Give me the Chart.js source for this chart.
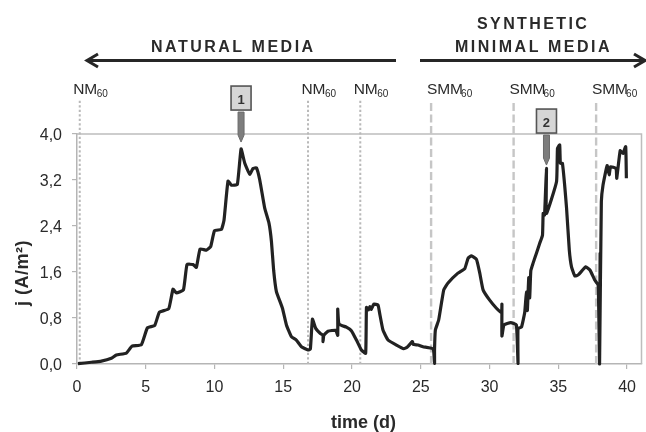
<!DOCTYPE html>
<html><head><meta charset="utf-8">
<style>html,body{margin:0;padding:0;background:#fff;overflow:hidden}canvas{display:block;filter:blur(0.45px)}</style>
<script src="https://cdn.jsdelivr.net/npm/chart.js@4"></script>
</head><body><canvas id="c" width="646" height="432"></canvas>
<script>
const timeDays = [0.07,1.05,1.77,2.5,2.86,3.59,4.0,4.68,5.12,5.65,5.99,6.67,6.98,7.23,7.74,8.0,8.44,8.68,8.95,9.41,9.72,10.0,10.5,10.69,10.98,11.23,11.66,11.93,12.2,12.56,12.8,13.05,13.29,13.65,13.96,14.14,14.3,14.5,14.94,15.23,15.59,15.95,16.32,16.8,16.97,17.12,17.36,17.7,17.89,17.89,17.95,18.25,18.81,18.96,18.96,19.05,19.59,19.95,20.32,20.68,20.99,21.05,21.2,21.3,21.4,21.58,21.89,22.01,22.25,22.62,23.23,23.76,24.0,24.39,24.45,24.8,25.16,25.9,26.0,26.0,26.06,26.3,26.67,26.98,27.7,28.2,28.44,28.68,29.05,29.29,29.53,30.01,30.5,30.87,30.9,30.9,31.05,31.54,31.95,32.07,32.07,32.32,32.56,32.68,32.75,32.85,32.92,33.0,33.16,33.41,33.65,33.85,33.9,34.0,34.14,34.14,34.87,34.94,35.1,35.15,35.3,35.6,35.8,35.96,36.2,36.45,37.0,37.3,37.65,37.9,38.0,38.04,38.0,38.13,38.25,38.55,38.7,38.8,39.2,39.25,39.5,39.7,39.9,39.95];
const currentDensity = [0.005,0.03,0.05,0.1,0.157,0.19,0.31,0.335,0.63,0.67,0.9,0.96,1.3,1.235,1.29,1.73,1.73,1.68,2.0,1.98,2.04,2.32,2.34,2.5,3.18,3.11,3.125,3.74,3.49,3.3,3.4,3.41,3.2,2.71,2.45,2.13,1.63,1.26,0.97,0.68,0.475,0.417,0.3,0.243,0.26,0.78,0.62,0.53,0.5,0.39,0.5,0.57,0.586,0.5,0.956,0.695,0.64,0.58,0.417,0.243,0.186,0.986,0.94,1.0,0.95,1.04,1.026,0.88,0.59,0.417,0.33,0.266,0.29,0.39,0.34,0.33,0.3,0.26,0.01,0.25,0.59,0.765,1.29,1.41,1.58,1.66,1.84,1.88,1.82,1.58,1.29,1.11,0.97,0.89,1.04,0.487,0.68,0.72,0.68,0.01,0.62,0.64,0.9,1.25,0.93,1.5,1.15,1.62,1.75,1.925,2.1,2.24,2.62,2.59,3.4,2.62,3.17,3.75,3.81,3.49,3.49,2.71,1.98,1.69,1.53,1.55,1.69,1.635,1.46,1.37,0,1.925,0,2.82,3.11,3.45,3.29,3.43,3.4,3.23,3.71,3.66,3.78,3.23];
const naturalMediaStarts = [0.2,16.8,20.6];
const syntheticMediaStarts = [25.75,31.75,37.75];
const feedLineTop = 4.58;
const xTickValues = [0,5,10,15,20,25,30,35,40];
const yTickValues = [0,0.8,1.6,2.4,3.2,4.0];
const markers = [{label:'1',t:11.93,j:3.86},{label:'2',t:34.14,j:3.46}];

const feedSet = (t,dash,w,col)=>({data:[{x:t,y:0},{x:t,y:feedLineTop}],borderColor:col,borderWidth:w,borderDash:dash,pointRadius:0,clip:false,order:5});

const SANS='"Liberation Sans",Arial,sans-serif';
function txt(c,s,x,y,font,col,sp,align){c.font=font;c.fillStyle=col;c.letterSpacing=(sp||0)+'px';c.textAlign=align||'left';c.textBaseline='alphabetic';c.fillText(s,x,y);c.letterSpacing='0px';}

const deco={id:'deco',
 beforeDatasetsDraw(ch){const a=ch.chartArea,c=ch.ctx;c.save();c.strokeStyle='#bdbdbd';c.lineWidth=1.5;c.beginPath();c.moveTo(a.left,a.top);c.lineTo(a.right,a.top);c.lineTo(a.right,a.bottom);c.stroke();c.restore();},
 afterDraw(ch){const c=ch.ctx,X=ch.scales.x,Y=ch.scales.y;c.save();
  txt(c,'NATURAL MEDIA',151,52,'bold 16px '+SANS,'#2a2a2a',2.5);
  txt(c,'SYNTHETIC',477,29,'bold 16px '+SANS,'#2a2a2a',2.4);
  txt(c,'MINIMAL MEDIA',455,52,'bold 16px '+SANS,'#2a2a2a',2.5);
  c.strokeStyle='#262626';c.lineWidth=3;c.lineCap='butt';c.lineJoin='miter';
  c.beginPath();c.moveTo(396,60.5);c.lineTo(87,60.5);c.stroke();
  c.beginPath();c.moveTo(98,54);c.lineTo(87,60.5);c.lineTo(98,67);c.stroke();
  c.beginPath();c.moveTo(420,60.5);c.lineTo(645,60.5);c.stroke();
  c.beginPath();c.moveTo(634,54);c.lineTo(645,60.5);c.lineTo(634,67);c.stroke();
  const lab=(t,main,off,w)=>{const x=X.getPixelForValue(t)+off;
    txt(c,main,x,94,'15.5px '+SANS,'#2a2a2a',-0.2);
    txt(c,'60',x+w,97,'10px '+SANS,'#2a2a2a',0);};
  naturalMediaStarts.forEach(t=>lab(t,'NM',-6.5,23.5));
  syntheticMediaStarts.forEach(t=>lab(t,'SMM',-4,34));
  markers.forEach(m=>{const x=X.getPixelForValue(m.t),y=Y.getPixelForValue(m.j);
    c.fillStyle='#7d7d7d';c.strokeStyle='#6a6a6a';c.lineWidth=1;
    c.beginPath();c.moveTo(x-3,y-30);c.lineTo(x+3,y-30);c.lineTo(x+3,y-7);c.lineTo(x,y);c.lineTo(x-3,y-7);c.closePath();c.fill();c.stroke();
    c.fillStyle='#d6d6d6';c.strokeStyle='#555';c.lineWidth=1.6;
    c.fillRect(x-10,y-56,20,24);c.strokeRect(x-10,y-56,20,24);
    txt(c,m.label,x,y-38,'bold 13px '+SANS,'#333',0,'center');});
  txt(c,'time (d)',363.5,428,'bold 18px '+SANS,'#2a2a2a',0,'center');
  c.translate(28,273);c.rotate(-Math.PI/2);
  txt(c,'j (A/m²)',0,0,'bold 18px '+SANS,'#2a2a2a',0.5,'center');
  c.restore();}
};

new Chart(document.getElementById('c'),{
 type:'scatter',
 data:{datasets:[
  ...naturalMediaStarts.map(t=>feedSet(t,[2.2,2.3],2,'#b9b9b9')),
  ...syntheticMediaStarts.map(t=>feedSet(t,[8,3.5],2.4,'#c6c6c6')),
  {data:timeDays.map((t,i)=>({x:t,y:currentDensity[i]})),borderColor:'#222',borderWidth:3.2,pointRadius:0,tension:0.12,borderJoinStyle:'round',clip:false,order:1}
 ].map(d=>({showLine:true,...d}))},
 plugins:[deco],
 options:{responsive:false,animation:false,
  layout:{padding:{top:134,right:4.5,left:0,bottom:0}},
  plugins:{legend:{display:false},tooltip:{enabled:false},title:{display:false}},
  scales:{
   x:{type:'linear',min:0,max:41.05,
    afterBuildTicks(s){s.ticks=xTickValues.map(v=>({value:v}));},
    afterFit(s){s.height=68;},
    border:{color:'#b5b5b5',width:1.5},
    grid:{drawOnChartArea:false,color:'#b5b5b5',lineWidth:1.2,tickLength:5},
    ticks:{color:'#2a2a2a',font:{family:SANS,size:16},padding:9,maxRotation:0,autoSkip:false}},
   y:{type:'linear',min:0,max:4,
    afterBuildTicks(s){s.ticks=yTickValues.map(v=>({value:v}));},
    afterFit(s){s.width=77;},
    border:{color:'#b5b5b5',width:1.5},
    grid:{drawOnChartArea:false,color:'#b5b5b5',lineWidth:1.2,tickLength:5},
    ticks:{color:'#2a2a2a',font:{family:SANS,size:16},padding:10,labelOffset:1.5,callback:v=>v.toFixed(1).replace('.',',')}}
  }}
});
</script></body></html>
